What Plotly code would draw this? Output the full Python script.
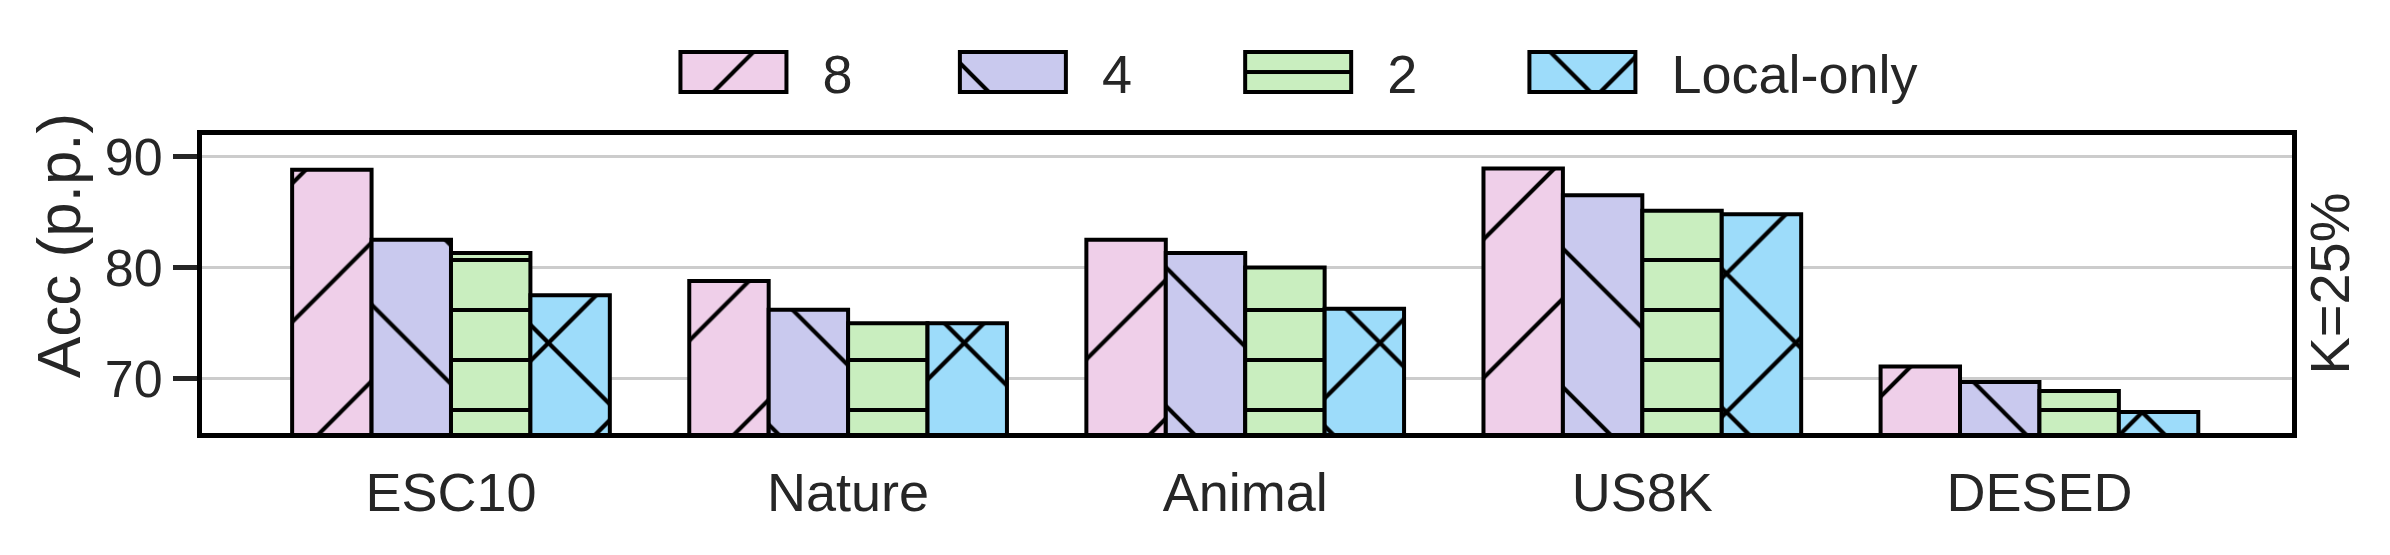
import plotly.graph_objects as go

# datasets on the x axis
datasets = ["ESC10", "Nature", "Animal", "US8K", "DESED"]

# accuracy (p.p.) per number of clients
acc_8 = [88.8, 78.8, 82.5, 88.9, 71.1]
acc_4 = [82.5, 76.2, 81.3, 86.5, 69.7]
acc_2 = [81.3, 75.0, 80.0, 85.1, 68.9]
acc_local = [77.5, 75.0, 76.3, 84.8, 67.0]

series_names = ["8", "4", "2", "Local-only"]
series_values = [acc_8, acc_4, acc_2, acc_local]

y_ticks = [70, 80, 90]

colors = ["#EFCFE9", "#C9C9EE", "#C9EEBF", "#9DDCFA"]
hatches = ["/", "\\", "-", "x"]
hatch_size = [98, 98, 50, 98]
hatch_solid = [0.042, 0.042, 0.084, 0.085]

# one legend per series so the entries can sit where the original has them
legend_ids = ["legend", "legend2", "legend3", "legend4"]
legend_x = [0.2117, 0.3454, 0.4819, 0.6179]

FONT = "Liberation Sans, Arial, sans-serif"
TXT = "#262626"

fig = go.Figure()
for name, vals, c, h, hs, so, lg in zip(series_names, series_values, colors,
                                         hatches, hatch_size, hatch_solid, legend_ids):
    fig.add_trace(go.Bar(
        x=datasets, y=vals, name=name, base=0, legend=lg, showlegend=True,
        marker=dict(
            color=c,
            line=dict(color="black", width=4),
            pattern=dict(shape=h, size=hs, solidity=so, fgcolor="black",
                         bgcolor=c, fillmode="replace"),
        ),
    ))

legends = {}
for lg, lx in zip(legend_ids, legend_x):
    legends[lg] = dict(
        orientation="h", x=lx, xanchor="left", y=1.21, yanchor="middle",
        font=dict(size=54, color=TXT, family=FONT), itemwidth=168,
        bgcolor="rgba(0,0,0,0)", borderwidth=0, visible=True,
    )

fig.update_layout(
    width=2390, height=555, showlegend=True,
    margin=dict(l=202, r=98, t=135, b=122),
    paper_bgcolor="white", plot_bgcolor="white",
    barmode="group", bargap=0.2, bargroupgap=0,
    font=dict(family=FONT, size=52, color=TXT),
    annotations=[
        dict(text="Acc (p.p.)", xref="paper", yref="paper", x=-0.069, y=0.63,
             textangle=-90, showarrow=False, font=dict(size=62, color=TXT),
             xanchor="center", yanchor="middle"),
        dict(text="K=25%", xref="paper", yref="paper", x=1.0175, y=0.5,
             textangle=-90, showarrow=False, font=dict(size=56, color=TXT),
             xanchor="center", yanchor="middle"),
    ],
    **legends,
)

fig.update_xaxes(
    range=[-0.627, 4.636], showline=True, linecolor="black", linewidth=5,
    mirror=True, showgrid=False, ticks="", ticklabelstandoff=8,
    tickfont=dict(size=54, color=TXT),
)
fig.update_yaxes(
    range=[65.12, 91.92], tickvals=y_ticks, showline=True, linecolor="black",
    linewidth=5, mirror=True, showgrid=True, gridcolor="#CCCCCC", gridwidth=3,
    ticks="outside", ticklen=24, tickwidth=5, tickcolor=TXT, zeroline=False,
    tickfont=dict(size=52, color=TXT),
)

# big legend patches that reuse the hatch fill of the bars (matplotlib style)
post = """
document.body.style.margin = '0';
var gd = document.getElementById('{plot_id}');
var SHIFT = [[0, 0], [44, 0], [0, 25], [-13, -25]];
function fixLegend() {
  var fills = [];
  gd.querySelectorAll('.barlayer g.trace').forEach(function(t) {
    var p = t.querySelector('path');
    fills.push(p ? p.style.fill : null);
  });
  gd.querySelectorAll('g.legendpoints path').forEach(function(sym, i) {
    var item = sym.closest('g.traces');
    var idx = i;
    if (item && item.__data__ && item.__data__[0] && item.__data__[0].trace) {
      idx = item.__data__[0].trace.index;
    }
    var s = SHIFT[idx] || [0, 0];
    var d = 'M' + (s[0] + 53) + ',' + (s[1] + 20) + 'H' + (s[0] - 53) +
            'V' + (s[1] - 20) + 'H' + (s[0] + 53) + 'Z';
    if (sym.getAttribute('data-t0') === null) {
      sym.setAttribute('data-t0', sym.getAttribute('transform') || '');
    }
    var tr = sym.getAttribute('data-t0') + ' translate(' + (-s[0]) + ',' + (-s[1]) + ')';
    if (sym.getAttribute('d') !== d) sym.setAttribute('d', d);
    if (sym.getAttribute('transform') !== tr) sym.setAttribute('transform', tr);
    if (fills[idx] && sym.style.fill !== fills[idx]) sym.style.fill = fills[idx];
    sym.style.strokeWidth = '4px';
    sym.style.stroke = 'black';
  });
}
fixLegend();
gd.on('plotly_afterplot', fixLegend);
setTimeout(fixLegend, 200);
setTimeout(fixLegend, 1000);
"""

fig.write_html("out.html", post_script=post, config={"displayModeBar": False})
